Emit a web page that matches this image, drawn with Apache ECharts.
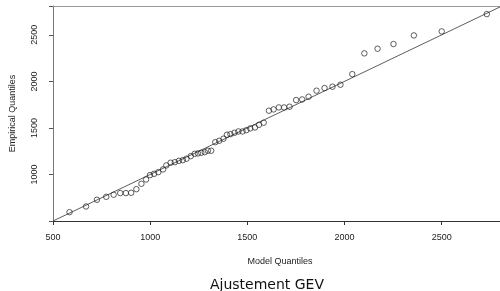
<!DOCTYPE html>
<html>
<head>
<meta charset="utf-8">
<script src="https://cdn.jsdelivr.net/npm/echarts@6/dist/echarts.min.js"></script>
<style>
  html, body { margin: 0; padding: 0; background: #fff; }
  #qq_plot { width: 500px; height: 291px; }
</style>
</head>
<body>
<div id="qq_plot"></div>
<script>
// Model quantiles (x) and empirical quantiles (y)
var modelQuantiles = [
    585, 670, 726, 774, 812, 846, 875, 902, 929, 955,
    979, 999, 1020, 1042, 1066, 1083, 1105, 1127, 1148, 1168,
    1187, 1209, 1229, 1246, 1263, 1281, 1297, 1314, 1335, 1355,
    1377, 1395, 1413, 1434, 1454, 1475, 1495, 1515, 1539, 1560,
    1584, 1611, 1635, 1662, 1689, 1717, 1751, 1782, 1815, 1856,
    1897, 1938, 1979, 2040, 2102, 2170, 2252, 2357, 2500, 2732
];
var empiricalQuantiles = [
    595, 656, 728, 760, 782, 800, 800, 803, 842, 900,
    946, 993, 1007, 1025, 1054, 1097, 1126, 1132, 1147, 1154,
    1169, 1197, 1222, 1226, 1233, 1240, 1255, 1255, 1347, 1362,
    1384, 1427, 1433, 1448, 1462, 1462, 1476, 1495, 1505, 1534,
    1556, 1685, 1699, 1720, 1720, 1728, 1799, 1806, 1835, 1900,
    1928, 1943, 1964, 2078, 2301, 2351, 2401, 2494, 2537, 2723
];
// Reference line y = x
var refLineX = [500, 2800];
var xTicks = [500, 1000, 1500, 2000, 2500];
var yTicks = [1000, 1500, 2000, 2500];

var element = document.getElementById('qq_plot');
var chart = echarts.init(element, null, { renderer: 'canvas' });

var points = modelQuantiles.map(function (v, i) { return [v, empiricalQuantiles[i]]; });
var refLine = refLineX.map(function (v) { return [v, v]; });

var labelFont = 'Liberation Sans, Arial, sans-serif';

chart.setOption({
    animation: false,
    backgroundColor: '#fff',

    title: [
        {
            text: 'Model Quantiles',
            left: 275,
            top: 252,
            textAlign: 'center',
            textStyle: { fontFamily: labelFont, fontSize: 9, fontWeight: 'normal', color: '#222' }
        },
        {
            text: 'Ajustement GEV',
            left: 262,
            top: 273,
            textAlign: 'center',
            textStyle: { fontFamily: 'DejaVu Sans, sans-serif', fontSize: 14, fontWeight: 'normal', color: '#111' }
        }
    ],

    grid: { left: 50, top: 6, right: 0, bottom: 70, containLabel: false },

    xAxis: [
        {
            type: 'value',
            min: 500,
            max: 2800,
            interval: 500,
            axisLine: { show: true, onZero: false, lineStyle: { color: '#333', width: 1 } },
            axisTick: { show: true, length: 4, lineStyle: { color: '#333' } },
            axisLabel: {
                margin: 12,
                fontFamily: labelFont,
                fontSize: 9,
                color: '#222',
                showMaxLabel: false,
                formatter: function (v) { return xTicks.indexOf(v) >= 0 ? String(v) : ''; }
            },
            splitLine: { show: false }
        },
        {
            type: 'value',
            position: 'top',
            min: 500,
            max: 2800,
            axisLine: { show: true, onZero: false, lineStyle: { color: '#999', width: 1 } },
            axisTick: { show: false },
            axisLabel: { show: false },
            splitLine: { show: false }
        }
    ],

    yAxis: {
        type: 'value',
        min: 500,
        max: 2810,
        interval: 500,
        name: 'Empirical Quantiles',
        nameLocation: 'middle',
        nameGap: 36,
        nameRotate: 90,
        nameTextStyle: { fontFamily: labelFont, fontSize: 9, color: '#222' },
        axisLine: { show: true, onZero: false, lineStyle: { color: '#777', width: 1 } },
        axisTick: { show: true, length: 4, lineStyle: { color: '#555' } },
        axisLabel: {
            rotate: 90,
            margin: 14,
            fontFamily: labelFont,
            fontSize: 9,
            color: '#222',
            formatter: function (v) { return yTicks.indexOf(v) >= 0 ? String(v) : ''; }
        },
        splitLine: { show: false }
    },

    series: [
        {
            name: 'y = x',
            type: 'line',
            data: refLine,
            symbol: 'none',
            lineStyle: { color: '#333', width: 0.8 },
            z: 2
        },
        {
            name: 'quantiles',
            type: 'scatter',
            data: points,
            symbol: 'circle',
            symbolSize: 5.5,
            itemStyle: { color: 'rgba(255,255,255,0)', borderColor: '#222', borderWidth: 0.9 },
            z: 3
        }
    ]
});
</script>
</body>
</html>
